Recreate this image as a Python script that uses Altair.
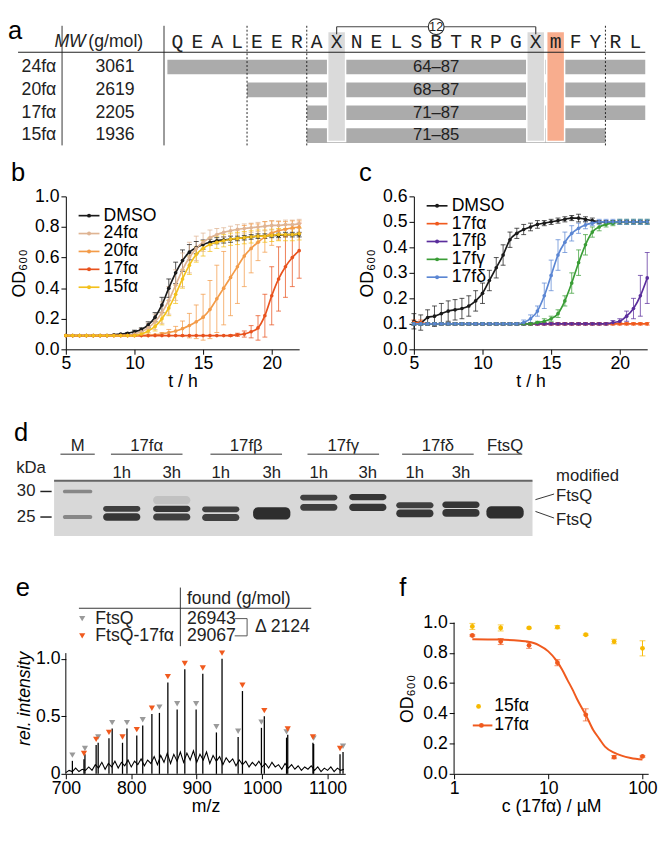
import altair as alt
import pandas as pd

FONT = "Liberation Sans"
MONO = "Liberation Mono"
FS = 18

# ---------------- Panel a : peptide table ----------------
sequence = list("QEALEERAXNELSBTRPGXmFYRL")
first_residue = 64
peptides = ["24fα", "20fα", "17fα", "15fα"]
mw_gmol = [3061, 2619, 2205, 1936]
res_start = [64, 68, 71, 71]
res_end = [87, 87, 87, 85]
crosslink_pos = [8, 18]
crosslink_ring = "12"
modified_pos = [19]

# ---------------- Panel b : growth curves ----------------
hours = [5.0, 5.5, 6.0, 6.5, 7.0, 7.5, 8.0, 8.5, 9.0, 9.5, 10.0, 10.5, 11.0, 11.5,
         12.0, 12.5, 13.0, 13.5, 14.0, 14.5, 15.0, 15.5, 16.0, 16.5, 17.0, 17.5,
         18.0, 18.5, 19.0, 19.5, 20.0, 20.5, 21.0, 21.5, 22.0]
b_names = ["DMSO", "24fα", "20fα", "17fα", "15fα"]
b_colors = ["#1a1a1a", "#dfb493", "#f39b48", "#e8521d", "#f3c01c"]
b_od = {
    "DMSO": [0.09, 0.09, 0.09, 0.09, 0.09, 0.09, 0.09, 0.095, 0.10, 0.105, 0.115, 0.13, 0.16, 0.21,
             0.29, 0.40, 0.50, 0.58, 0.635, 0.665, 0.685, 0.70, 0.71, 0.715, 0.72, 0.725,
             0.73, 0.735, 0.74, 0.74, 0.745, 0.745, 0.75, 0.75, 0.75],
    "24fα": [0.09, 0.09, 0.09, 0.09, 0.09, 0.09, 0.09, 0.09, 0.09, 0.09, 0.10, 0.115, 0.14, 0.18,
             0.24, 0.32, 0.42, 0.52, 0.60, 0.66, 0.70, 0.73, 0.75, 0.765, 0.775, 0.785,
             0.79, 0.795, 0.80, 0.805, 0.81, 0.81, 0.815, 0.815, 0.82],
    "20fα": [0.09, 0.09, 0.09, 0.09, 0.09, 0.09, 0.09, 0.09, 0.09, 0.09, 0.09, 0.09, 0.09, 0.095,
             0.10, 0.11, 0.12, 0.135, 0.155, 0.18, 0.21, 0.26, 0.33, 0.40, 0.47, 0.54,
             0.61, 0.66, 0.70, 0.735, 0.76, 0.775, 0.785, 0.795, 0.80],
    "17fα": [0.09, 0.09, 0.09, 0.09, 0.09, 0.09, 0.09, 0.09, 0.09, 0.09, 0.09, 0.09, 0.09, 0.09,
             0.09, 0.09, 0.09, 0.09, 0.09, 0.09, 0.09, 0.09, 0.09, 0.09, 0.09, 0.095,
             0.10, 0.115, 0.14, 0.22, 0.35, 0.46, 0.54, 0.60, 0.645],
    "15fα": [0.09, 0.09, 0.09, 0.09, 0.09, 0.09, 0.09, 0.09, 0.09, 0.09, 0.09, 0.10, 0.12, 0.15,
             0.20, 0.27, 0.36, 0.46, 0.55, 0.62, 0.66, 0.685, 0.70, 0.71, 0.72, 0.725,
             0.73, 0.735, 0.74, 0.74, 0.745, 0.75, 0.75, 0.75, 0.755],
}
b_err = {
    "DMSO": [0, 0, 0, 0, 0, 0, 0, 0, 0, 0.005, 0.01, 0.01, 0.02, 0.03, 0.05, 0.06, 0.07, 0.07,
             0.05, 0.04, 0.03, 0.02, 0.02, 0.02, 0.02, 0.015, 0.015, 0.015, 0.015, 0.015,
             0.015, 0.015, 0.015, 0.015, 0.015],
    "24fα": [0, 0, 0, 0, 0, 0, 0, 0, 0, 0.005, 0.01, 0.02, 0.03, 0.05, 0.07, 0.09, 0.10, 0.11,
             0.10, 0.08, 0.06, 0.05, 0.04, 0.03, 0.03, 0.03, 0.03, 0.03, 0.03, 0.03, 0.03,
             0.03, 0.03, 0.03, 0.03],
    "20fα": [0, 0, 0, 0, 0, 0, 0, 0, 0, 0, 0, 0, 0, 0, 0.01, 0.02, 0.03, 0.05, 0.08, 0.11,
             0.15, 0.19, 0.22, 0.24, 0.25, 0.24, 0.20, 0.16, 0.12, 0.10, 0.08, 0.06, 0.05,
             0.045, 0.04],
    "17fα": [0, 0, 0, 0, 0, 0, 0, 0, 0, 0, 0, 0, 0, 0, 0, 0, 0, 0, 0, 0, 0, 0, 0, 0, 0.005,
             0.01, 0.02, 0.04, 0.08, 0.14, 0.19, 0.21, 0.20, 0.19, 0.18],
    "15fα": [0, 0, 0, 0, 0, 0, 0, 0, 0, 0, 0.005, 0.01, 0.02, 0.03, 0.04, 0.05, 0.06, 0.06,
             0.06, 0.05, 0.05, 0.045, 0.04, 0.04, 0.04, 0.04, 0.04, 0.04, 0.04, 0.04, 0.04,
             0.04, 0.04, 0.04, 0.04],
}

# ---------------- Panel c : growth curves ----------------
c_names = ["DMSO", "17fα", "17fβ", "17fγ", "17fδ"]
c_colors = ["#1a1a1a", "#f05a1e", "#5a2d9c", "#3a9d36", "#5b86d3"]
c_od = {
    "DMSO": [0.11, 0.105, 0.125, 0.13, 0.14, 0.15, 0.155, 0.16, 0.17, 0.19, 0.22, 0.27, 0.32, 0.37,
             0.43, 0.455, 0.47, 0.48, 0.49, 0.495, 0.50, 0.505, 0.51, 0.515, 0.515, 0.51,
             0.505, 0.50, 0.50, 0.50, 0.50, 0.50, 0.50, 0.50, 0.50],
    "17fα": [0.105, 0.105, 0.10, 0.10, 0.10, 0.10, 0.10, 0.10, 0.10, 0.10, 0.10, 0.10, 0.10, 0.10,
             0.10, 0.10, 0.10, 0.10, 0.10, 0.10, 0.10, 0.10, 0.10, 0.10, 0.10, 0.10,
             0.10, 0.10, 0.10, 0.10, 0.10, 0.10, 0.10, 0.10, 0.10],
    "17fβ": [0.10, 0.10, 0.10, 0.10, 0.10, 0.10, 0.10, 0.10, 0.10, 0.10, 0.10, 0.10, 0.10, 0.10,
             0.10, 0.10, 0.10, 0.10, 0.10, 0.10, 0.10, 0.10, 0.10, 0.10, 0.10, 0.10,
             0.10, 0.10, 0.10, 0.105, 0.11, 0.13, 0.16, 0.21, 0.28],
    "17fγ": [0.10, 0.10, 0.10, 0.10, 0.10, 0.10, 0.10, 0.10, 0.10, 0.10, 0.10, 0.10, 0.10, 0.10,
             0.10, 0.10, 0.10, 0.10, 0.105, 0.11, 0.12, 0.14, 0.19, 0.26, 0.34, 0.41,
             0.46, 0.48, 0.49, 0.495, 0.50, 0.50, 0.50, 0.50, 0.50],
    "17fδ": [0.10, 0.10, 0.10, 0.10, 0.10, 0.10, 0.10, 0.10, 0.10, 0.10, 0.10, 0.10, 0.10, 0.10,
             0.10, 0.10, 0.105, 0.12, 0.15, 0.21, 0.29, 0.37, 0.42, 0.455, 0.475, 0.488,
             0.495, 0.50, 0.50, 0.50, 0.50, 0.50, 0.50, 0.50, 0.50],
}
c_err = {
    "DMSO": [0.03, 0.03, 0.03, 0.04, 0.04, 0.04, 0.04, 0.04, 0.04, 0.04, 0.04, 0.04, 0.04, 0.04,
             0.03, 0.02, 0.02, 0.015, 0.015, 0.01, 0.01, 0.01, 0.01, 0.01, 0.015, 0.01, 0.01,
             0.005, 0.005, 0.005, 0.005, 0.005, 0.005, 0.005, 0.005],
    "17fα": [0.01, 0.01, 0.005, 0.005, 0.005, 0.005, 0.005, 0.005, 0.005, 0.005, 0.005, 0.005,
             0.005, 0.005, 0.005, 0.005, 0.005, 0.005, 0.005, 0.005, 0.005, 0.005, 0.005, 0.005,
             0.005, 0.005, 0.005, 0.005, 0.005, 0.005, 0.005, 0.005, 0.005, 0.005, 0.005],
    "17fβ": [0.005, 0.005, 0.005, 0.005, 0.005, 0.005, 0.005, 0.005, 0.005, 0.005, 0.005, 0.005,
             0.005, 0.005, 0.005, 0.005, 0.005, 0.005, 0.005, 0.005, 0.005, 0.005, 0.005, 0.005,
             0.005, 0.005, 0.005, 0.005, 0.005, 0.008, 0.01, 0.02, 0.04, 0.08, 0.10],
    "17fγ": [0.005, 0.005, 0.005, 0.005, 0.005, 0.005, 0.005, 0.005, 0.005, 0.005, 0.005, 0.005,
             0.005, 0.005, 0.005, 0.005, 0.005, 0.005, 0.005, 0.01, 0.01, 0.015, 0.02, 0.04,
             0.05, 0.04, 0.02, 0.015, 0.01, 0.01, 0.01, 0.01, 0.01, 0.01, 0.01],
    "17fδ": [0.005, 0.005, 0.005, 0.005, 0.005, 0.005, 0.005, 0.005, 0.005, 0.005, 0.005, 0.005,
             0.005, 0.005, 0.005, 0.005, 0.01, 0.015, 0.02, 0.05, 0.06, 0.06, 0.04, 0.03,
             0.02, 0.015, 0.01, 0.01, 0.01, 0.01, 0.01, 0.01, 0.01, 0.01, 0.01],
}

# ---------------- Panel d : SDS-PAGE ----------------
lane_pos = [0.0, 0.9, 1.92, 2.92, 3.96, 4.92, 5.92, 6.88, 7.82, 8.72]
lane_time = ["", "1h", "3h", "1h", "3h", "1h", "3h", "1h", "3h", ""]
groups = ["M", "17fα", "17fβ", "17fγ", "17fδ", "FtsQ"]
group_lanes = [[0], [1, 2], [3, 4], [5, 6], [7, 8], [9]]
marker_kda = [30, 25]
band_lane = [0, 0, 1, 1, 2, 2, 2, 3, 3, 4, 5, 5, 6, 6, 7, 7, 8, 8, 9]
band_kda = [30.0, 25.0, 26.6, 25.0, 28.3, 26.6, 25.0, 26.5, 24.9, 25.7, 28.8, 26.9, 28.9, 26.9,
            27.3, 25.7, 27.4, 25.8, 25.9]
band_thick = [0.7, 0.8, 1.1, 1.5, 1.6, 1.2, 1.4, 1.1, 1.4, 2.4, 1.1, 1.3, 1.2, 1.4, 1.2, 1.5,
              1.3, 1.5, 2.4]
band_dark = [0.45, 0.45, 0.85, 0.9, 0.12, 0.9, 0.85, 0.85, 0.85, 0.95, 0.85, 0.85, 0.9, 0.9,
             0.85, 0.9, 0.9, 0.9, 0.95]

# ---------------- Panel e : ESI-MS ----------------
ftsq_mz = [710.0, 729.2, 749.4, 770.8, 793.4, 817.5, 843.0, 870.1, 899.1, 930.1, 963.3,
           998.9, 1037.3, 1078.7, 1123.6]
ftsq_int = [0.113, 0.17, 0.27, 0.395, 0.395, 0.42, 0.53, 0.56, 0.56, 0.36, 0.32, 0.40,
            0.315, 0.26, 0.19]
mod_mz = [727.7, 746.3, 765.9, 786.6, 808.4, 831.5, 855.9, 881.8, 909.3, 938.7, 969.9,
          1003.3, 1039.1, 1077.6, 1119.0]
mod_int = [0.127, 0.25, 0.31, 0.27, 0.334, 0.52, 0.795, 0.91, 0.87, 1.0, 0.72, 0.50, 0.34,
           0.27, 0.17]
noise_mz = [700, 705, 710, 715, 720, 725, 730, 735, 740, 745, 750, 755, 760, 765, 770, 775,
            780, 785, 790, 795, 800, 805, 810, 815, 820, 825, 830, 835, 840, 845, 850, 855,
            860, 865, 870, 875, 880, 885, 890, 895, 900, 905, 910, 915, 920, 925, 930, 935,
            940, 945, 950, 955, 960, 965, 970, 975, 980, 985, 990, 995, 1000, 1005, 1010,
            1015, 1020, 1025, 1030, 1035, 1040, 1045, 1050, 1055, 1060, 1065, 1070, 1075,
            1080, 1085, 1090, 1095, 1100, 1105, 1110, 1115, 1120, 1125]
noise_int = [0.01, 0.03, 0.02, 0.05, 0.02, 0.04, 0.03, 0.06, 0.03, 0.08,
             0.05, 0.10, 0.04, 0.09, 0.06, 0.11, 0.05, 0.10, 0.07, 0.12,
             0.06, 0.11, 0.08, 0.13, 0.07, 0.12, 0.09, 0.15, 0.08, 0.16,
             0.10, 0.18, 0.09, 0.17, 0.11, 0.19, 0.10, 0.18, 0.12, 0.20,
             0.10, 0.17, 0.12, 0.19, 0.09, 0.16, 0.11, 0.15, 0.08, 0.14,
             0.10, 0.13, 0.07, 0.12, 0.08, 0.11, 0.06, 0.10, 0.07, 0.11,
             0.06, 0.09, 0.05, 0.10, 0.06, 0.08, 0.04, 0.09, 0.05, 0.08,
             0.04, 0.07, 0.03, 0.06, 0.04, 0.07, 0.03, 0.06, 0.02, 0.05,
             0.03, 0.06, 0.02, 0.05, 0.03, 0.04]
species = ["FtsQ", "FtsQ-17fα"]
found_mass = [26943, 29067]
ms_colors = ["#9a9a9a", "#f05a1e"]

# ---------------- Panel f : dose response ----------------
conc = [1.5625, 3.125, 6.25, 12.5, 25, 50, 100]
f_od15 = [0.975, 0.965, 0.965, 0.97, 0.92, 0.875, 0.83]
f_err15 = [0.02, 0.02, 0.005, 0.01, 0.005, 0.015, 0.05]
f_od17 = [0.915, 0.875, 0.85, 0.735, 0.39, 0.11, 0.115]
f_err17 = [0.005, 0.02, 0.02, 0.02, 0.04, 0.01, 0.005]
fit_conc = [1.5625, 3, 5, 6, 7, 8, 10, 12, 14, 16, 18, 20, 22.5, 25, 30, 35, 40, 50, 60, 75, 100]
fit_od = [0.89, 0.888, 0.88, 0.875, 0.865, 0.85, 0.81, 0.755, 0.69, 0.62, 0.56, 0.50, 0.44,
          0.39, 0.29, 0.23, 0.18, 0.14, 0.12, 0.105, 0.095]
f_names = ["15fα", "17fα"]
f_colors = ["#f7b900", "#f05a1e"]


def title(letter, **kw):
    return alt.TitleParams(letter, anchor="start", fontSize=26, fontWeight="normal",
                           font=FONT, color="black", **kw)


# ======================= build panel a =======================
A_W, A_H = 591, 94
ax_s = alt.Scale(domain=[-5.6, 23.5], nice=False, zero=False)
ay_s = alt.Scale(domain=[-0.6, 3.43], nice=False, zero=False, reverse=True)


def AX(f):
    return alt.X(f, type="quantitative", scale=ax_s, axis=None)


def AY(f):
    return alt.Y(f, type="quantitative", scale=ay_s, axis=None)


rows = list(range(len(peptides)))
HDR_Y = -1.07
bar_df = pd.DataFrame({
    "x0": [s - first_residue - 0.5 for s in res_start],
    "x1": [e - first_residue + 0.5 for e in res_end],
    "y0": [r - 0.32 for r in rows], "y1": [r + 0.32 for r in rows],
    "row": rows,
    "label": [f"{s}–{e}" for s, e in zip(res_start, res_end)],
    "lx": [sum(crosslink_pos) / 2] * len(rows),
    "pep": peptides, "mw": [str(m) for m in mw_gmol],
    "px": [-6.08] * len(rows), "mx": [-3.13] * len(rows),
})
col_top, col_bot = -1.55, 3.26
xcol_df = pd.DataFrame({"x0": [p - 0.45 for p in crosslink_pos], "x1": [p + 0.45 for p in crosslink_pos],
                        "y0": [col_top] * 2, "y1": [col_bot] * 2})
mcol_df = pd.DataFrame({"x0": [p - 0.45 for p in modified_pos], "x1": [p + 0.45 for p in modified_pos],
                        "y0": [col_top], "y1": [col_bot]})
seq_df = pd.DataFrame({"i": list(range(len(sequence))), "aa": sequence, "y": [HDR_Y] * len(sequence)})
bounds = sorted(set([s - first_residue - 0.5 for s in res_start if s > first_residue] +
                    [e - first_residue + 0.5 for e in res_end if e < max(res_end)]))
dot_df = pd.DataFrame({"x": bounds, "y0": [-1.8] * len(bounds), "y1": [3.43] * len(bounds)})
sep_df = pd.DataFrame({"x": [-5.79, -0.67], "y0": [-1.8, -1.8], "y1": [3.43, 3.43]})
hline_df = pd.DataFrame({"x0": [-8.0], "x1": [23.5], "y": [-0.643]})
br_y, br_y2 = -1.758, -1.43
brk_df = pd.DataFrame({"x0": [crosslink_pos[0], crosslink_pos[0], crosslink_pos[1]],
                       "x1": [crosslink_pos[1], crosslink_pos[0], crosslink_pos[1]],
                       "y0": [br_y, br_y, br_y], "y1": [br_y, br_y2, br_y2]})
ring_df = pd.DataFrame({"x": [sum(crosslink_pos) / 2], "y": [br_y], "t": [crosslink_ring]})
hdr_df = pd.DataFrame({"x": [-4.6, -4.47], "y": [HDR_Y, HDR_Y], "t": ["MW", "(g/mol)"]})
letter_a = pd.DataFrame({"x": [-8.5], "y": [-2.12], "t": ["a"]})

panel_a = alt.layer(
    alt.Chart(bar_df).mark_rect(color="#ababab").encode(x=AX("x0"), x2="x1", y=AY("y0"), y2="y1"),
    alt.Chart(xcol_df).mark_rect(color="#dadada", stroke="white", strokeWidth=1.5).encode(
        x=AX("x0"), x2="x1", y=AY("y0"), y2="y1"),
    alt.Chart(mcol_df).mark_rect(color="#f8ad8e", stroke="white", strokeWidth=1.5).encode(
        x=AX("x0"), x2="x1", y=AY("y0"), y2="y1"),
    alt.Chart(bar_df).mark_text(fontSize=17, font=FONT, color="#222").encode(
        x=AX("lx"), y=AY("row"), text="label:N"),
    alt.Chart(seq_df).mark_text(fontSize=20, font=MONO, color="#222").encode(
        x=AX("i"), y=AY("y"), text="aa:N"),
    alt.Chart(bar_df).mark_text(fontSize=18, font=FONT, align="right", color="#222").encode(
        x=AX("px"), y=AY("row"), text="pep:N"),
    alt.Chart(bar_df).mark_text(fontSize=18, font=FONT, color="#222").encode(
        x=AX("mx"), y=AY("row"), text="mw:N"),
    alt.Chart(hdr_df.iloc[[0]]).mark_text(fontSize=18, font=FONT, fontStyle="italic", align="right",
                                          color="#222").encode(x=AX("x"), y=AY("y"), text="t:N"),
    alt.Chart(hdr_df.iloc[[1]]).mark_text(fontSize=18, font=FONT, align="left", color="#222").encode(
        x=AX("x"), y=AY("y"), text="t:N"),
    alt.Chart(sep_df).mark_rule(color="#333", strokeWidth=1).encode(x=AX("x"), y=AY("y0"), y2="y1"),
    alt.Chart(dot_df).mark_rule(color="#222", strokeWidth=1, strokeDash=[2, 2]).encode(
        x=AX("x"), y=AY("y0"), y2="y1"),
    alt.Chart(hline_df).mark_rule(color="#222", strokeWidth=1.2).encode(x=AX("x0"), x2="x1", y=AY("y")),
    alt.Chart(brk_df).mark_rule(color="#444", strokeWidth=1.2).encode(
        x=AX("x0"), x2="x1", y=AY("y0"), y2="y1"),
    alt.Chart(ring_df).mark_point(shape="circle", filled=True, fill="white", stroke="#333",
                                  strokeWidth=1.2, size=260, opacity=1).encode(x=AX("x"), y=AY("y")),
    alt.Chart(ring_df).mark_text(fontSize=13, font=FONT, color="#222").encode(
        x=AX("x"), y=AY("y"), text="t:N"),
    alt.Chart(letter_a).mark_text(fontSize=26, font=FONT, align="left", baseline="top",
                                  color="black").encode(x=AX("x"), y=AY("y"), text="t:N"),
).properties(width=A_W, height=A_H)


# ======================= growth panels b, c =======================
def growth_panel(series, errors, names, colors, ymax, yticks, leg_top, leg_step, letter, width, height):
    recs = []
    for n in names:
        for t, v, e in zip(hours, series[n], errors[n]):
            recs.append({"series": n, "t": t, "od": v, "lo": v - e, "hi": v + e, "e": e})
    df = pd.DataFrame(recs)
    xs = alt.Scale(domain=[5, 22], nice=False, zero=False)
    ys = alt.Scale(domain=[0, ymax], nice=False)
    xax = alt.Axis(values=[5, 10, 15, 20], title="t / h", titlePadding=0, labelPadding=1)
    yax = alt.Axis(values=yticks, format=".1f", title="OD₆₀₀", titlePadding=6)
    col = alt.Color("series:N", scale=alt.Scale(domain=names, range=colors), legend=None)

    def X(f):
        return alt.X(f, type="quantitative", scale=xs, axis=xax, title="t / h")

    def Y(f):
        return alt.Y(f, type="quantitative", scale=ys, axis=yax, title="OD₆₀₀")

    base = alt.Chart(df)
    errd = base.transform_filter("datum.e > 0")
    leg = pd.DataFrame({"series": names,
                        "y": [leg_top - i * leg_step for i in range(len(names))],
                        "xa": [5.93] * len(names), "xb": [7.45] * len(names),
                        "xd": [6.69] * len(names), "xt": [7.75] * len(names)})
    lb = alt.Chart(leg)
    return alt.layer(
        errd.mark_rule(strokeWidth=1, opacity=0.75).encode(x=X("t"), y=Y("lo"), y2="hi", color=col),
        errd.mark_tick(orient="horizontal", size=5, thickness=1, opacity=0.75).encode(
            x=X("t"), y=Y("hi"), color=col),
        errd.mark_tick(orient="horizontal", size=5, thickness=1, opacity=0.75).encode(
            x=X("t"), y=Y("lo"), color=col),
        base.mark_line(strokeWidth=1.7, interpolate="monotone").encode(x=X("t"), y=Y("od"), color=col),
        base.mark_circle(size=14, opacity=1).encode(x=X("t"), y=Y("od"), color=col),
        lb.mark_rule(strokeWidth=1.7).encode(x=X("xa"), x2="xb", y=Y("y"), color=col),
        lb.mark_circle(size=16, opacity=1).encode(x=X("xd"), y=Y("y"), color=col),
        lb.mark_text(align="left", fontSize=FS, font=FONT, color="black").encode(
            x=X("xt"), y=Y("y"), text="series:N"),
    ).properties(width=width, height=height, title=title(letter, offset=2))


panel_b = growth_panel(b_od, b_err, b_names, b_colors, 1.0, [0, 0.2, 0.4, 0.6, 0.8, 1.0],
                       0.874, 0.117, "b", 238, 156)
panel_c = growth_panel(c_od, c_err, c_names, c_colors, 0.6, [0, 0.1, 0.2, 0.3, 0.4, 0.5, 0.6],
                       0.563, 0.070, "c", 238, 156)

# ======================= panel d (gel) =======================
D_W, D_H = 596, 122
dx_s = alt.Scale(domain=[-0.24, 11.68], nice=False, zero=False)
dy_s = alt.Scale(domain=[20.6, 44.0], nice=False, zero=False)


def DX(f):
    return alt.X(f, type="quantitative", scale=dx_s, axis=None)


def DY(f):
    return alt.Y(f, type="quantitative", scale=dy_s, axis=None)


gel_df = pd.DataFrame({"x0": [-0.48], "x1": [9.28], "y0": [21.3], "y1": [32.1]})
band_df = pd.DataFrame({
    "x0": [lane_pos[l] - (0.3 if l == 0 else 0.38) for l in band_lane],
    "x1": [lane_pos[l] + (0.3 if l == 0 else 0.38) for l in band_lane],
    "y0": [k - t / 2 for k, t in zip(band_kda, band_thick)],
    "y1": [k + t / 2 for k, t in zip(band_kda, band_thick)],
    "dark": band_dark,
})
gcent = [sum(lane_pos[i] for i in g) / len(g) for g in group_lanes]
ghalf = [0.35 if len(g) == 1 else 0.73 for g in group_lanes]
grp_df = pd.DataFrame({"t": groups, "x": gcent, "x0": [c - h for c, h in zip(gcent, ghalf)],
                       "x1": [c + h for c, h in zip(gcent, ghalf)], "y": [38.85] * len(groups),
                       "yl": [37.3] * len(groups)})
time_df = pd.DataFrame({"x": lane_pos, "t": lane_time, "y": [33.65] * len(lane_pos)})
mk_df = pd.DataFrame({"t": [str(k) for k in marker_kda], "y": marker_kda,
                      "xt": [-1.05] * 2, "x0": [-0.76] * 2, "x1": [-0.53] * 2})
kda_df = pd.DataFrame({"t": ["kDa"], "x": [-0.95], "y": [34.6]})
right_df = pd.DataFrame({"t": ["modified", "FtsQ", "FtsQ"], "x": [9.76] * 3, "y": [33.1, 29.0, 24.4]})
lead_df = pd.DataFrame({"x0": [9.34, 9.34], "x1": [9.72, 9.72], "y0": [28.4, 26.1], "y1": [29.5, 24.8]})
letter_d = pd.DataFrame({"t": ["d"], "x": [-1.3], "y": [44.0]})

panel_d = alt.layer(
    alt.Chart(gel_df).mark_rect(color="#d8d8d8").encode(x=DX("x0"), x2="x1", y=DY("y0"), y2="y1"),
    alt.Chart(gel_df).mark_rule(color="#666", strokeWidth=2).encode(x=DX("x0"), x2="x1", y=DY("y1")),
    alt.Chart(band_df).mark_rect(color="#252525", cornerRadius=5).encode(
        x=DX("x0"), x2="x1", y=DY("y0"), y2="y1", opacity=alt.Opacity("dark:Q", scale=None)),
    alt.Chart(grp_df).mark_text(fontSize=17, font=FONT, color="#222").encode(
        x=DX("x"), y=DY("y"), text="t:N"),
    alt.Chart(grp_df).mark_rule(color="#777", strokeWidth=1.5).encode(x=DX("x0"), x2="x1", y=DY("yl")),
    alt.Chart(time_df).mark_text(fontSize=17, font=FONT, color="#222").encode(
        x=DX("x"), y=DY("y"), text="t:N"),
    alt.Chart(mk_df).mark_text(fontSize=17, font=FONT, color="#222").encode(
        x=DX("xt"), y=DY("y"), text="t:N"),
    alt.Chart(mk_df).mark_rule(color="#222", strokeWidth=1.5).encode(x=DX("x0"), x2="x1", y=DY("y")),
    alt.Chart(kda_df).mark_text(fontSize=17, font=FONT, color="#222").encode(
        x=DX("x"), y=DY("y"), text="t:N"),
    alt.Chart(right_df).mark_text(fontSize=17, font=FONT, align="left", color="#222").encode(
        x=DX("x"), y=DY("y"), text="t:N"),
    alt.Chart(lead_df).mark_rule(color="#333", strokeWidth=1).encode(
        x=DX("x0"), x2="x1", y=DY("y0"), y2="y1"),
    alt.Chart(letter_d).mark_text(fontSize=26, font=FONT, align="left", baseline="top",
                                  color="black").encode(x=DX("x"), y=DY("y"), text="t:N"),
).properties(width=D_W, height=D_H)

# ======================= panel e (MS) =======================
E_W, E_H = 285, 190
ex_s = alt.Scale(domain=[700, 1127], nice=False, zero=False)
ey_s = alt.Scale(domain=[0, 1.62], nice=False)
ex_ax = alt.Axis(values=[700, 800, 900, 1000, 1100], format="d", title="m/z", titlePadding=0,
                 labelPadding=1)
ey_ax = alt.Axis(values=[0, 0.5, 1.0], domain=False, title="rel. intensity", titleFontStyle="italic",
                 labelExpr="datum.value == 0 ? '0' : format(datum.value, '.1f')", titleY=113,
                 titlePadding=2, labelPadding=1)


def EX(f):
    return alt.X(f, type="quantitative", scale=ex_s, axis=ex_ax, title="m/z")


def EY(f):
    return alt.Y(f, type="quantitative", scale=ey_s, axis=ey_ax, title="rel. intensity")


noise_df = pd.DataFrame({"mz": noise_mz, "i": noise_int})
peaks_df = pd.DataFrame({"mz": ftsq_mz + mod_mz, "i": ftsq_int + mod_int,
                         "z": [0.0] * (len(ftsq_mz) + len(mod_mz))})
mk_gray = pd.DataFrame({"mz": ftsq_mz, "m": [v + 0.05 for v in ftsq_int]})
mk_or = pd.DataFrame({"mz": mod_mz, "m": [v + 0.05 for v in mod_int]})
eaxis_df = pd.DataFrame({"mz": [700], "y0": [0.0], "y1": [1.05]})
row_y = [1.35, 1.2]
tab_df = pd.DataFrame({"t": species, "m": [str(v) for v in found_mass], "y": row_y,
                       "xs": [725, 725], "xn": [745, 745], "xm": [885, 885], "sp": species})
hdr_e = pd.DataFrame({"t": ["found (g/mol)"], "x": [885], "y": [1.52]})
eline = pd.DataFrame({"x0": [720], "x1": [1075], "y": [1.44]})
esep = pd.DataFrame({"x": [875], "y0": [1.11], "y1": [1.62]})
ebr = pd.DataFrame({"x0": [958, 958, 977], "x1": [977, 977, 977],
                    "y0": [row_y[0], row_y[1], row_y[1]], "y1": [row_y[0], row_y[1], row_y[0]]})
delta_df = pd.DataFrame({"t": [f"Δ {found_mass[1] - found_mass[0]}"], "x": [989], "y": [1.275]})
sp_col = alt.Color("sp:N", scale=alt.Scale(domain=species, range=ms_colors), legend=None)

panel_e = alt.layer(
    alt.Chart(noise_df).mark_line(color="black", strokeWidth=1.1).encode(x=EX("mz"), y=EY("i")),
    alt.Chart(peaks_df).mark_rule(color="black", strokeWidth=1.3).encode(x=EX("mz"), y=EY("z"), y2="i"),
    alt.Chart(mk_gray).mark_point(shape="triangle-down", filled=True, size=40, color=ms_colors[0],
                                  opacity=1).encode(x=EX("mz"), y=EY("m")),
    alt.Chart(mk_or).mark_point(shape="triangle-down", filled=True, size=40, color=ms_colors[1],
                                opacity=1).encode(x=EX("mz"), y=EY("m")),
    alt.Chart(eaxis_df).mark_rule(color="black", strokeWidth=1).encode(x=EX("mz"), y=EY("y0"), y2="y1"),
    alt.Chart(tab_df).mark_point(shape="triangle-down", filled=True, size=40, opacity=1).encode(
        x=EX("xs"), y=EY("y"), color=sp_col),
    alt.Chart(tab_df).mark_text(align="left", fontSize=FS, font=FONT, color="#222").encode(
        x=EX("xn"), y=EY("y"), text="t:N"),
    alt.Chart(tab_df).mark_text(align="left", fontSize=FS, font=FONT, color="#222").encode(
        x=EX("xm"), y=EY("y"), text="m:N"),
    alt.Chart(hdr_e).mark_text(align="left", fontSize=FS, font=FONT, color="#222").encode(
        x=EX("x"), y=EY("y"), text="t:N"),
    alt.Chart(eline).mark_rule(color="#333", strokeWidth=1).encode(x=EX("x0"), x2="x1", y=EY("y")),
    alt.Chart(esep).mark_rule(color="#333", strokeWidth=1).encode(x=EX("x"), y=EY("y0"), y2="y1"),
    alt.Chart(ebr).mark_rule(color="#555", strokeWidth=1).encode(
        x=EX("x0"), x2="x1", y=EY("y0"), y2="y1"),
    alt.Chart(delta_df).mark_text(align="left", fontSize=FS, font=FONT, color="#222").encode(
        x=EX("x"), y=EY("y"), text="t:N"),
).properties(width=E_W, height=E_H, title=title("e", offset=-14))

# ======================= panel f (dose response) =======================
F_W, F_H = 198, 190
fx_s = alt.Scale(type="log", domain=[1, 115], nice=False)
fy_s = alt.Scale(domain=[0, 1.232], nice=False)
fx_ax = alt.Axis(values=[1, 10, 100], format="d", title="c (17fα) / µM", titlePadding=0,
                 labelPadding=1)
fy_ax = alt.Axis(values=[0, 0.2, 0.4, 0.6, 0.8, 1.0], format=".1f", domain=False, title="OD₆₀₀",
                 titleY=113, titlePadding=6)


def FX(f):
    return alt.X(f, type="quantitative", scale=fx_s, axis=fx_ax, title="c (17fα) / µM")


def FY(f):
    return alt.Y(f, type="quantitative", scale=fy_s, axis=fy_ax, title="OD₆₀₀")


fcol = alt.Color("s:N", scale=alt.Scale(domain=f_names, range=f_colors), legend=None)
fpts = pd.DataFrame({"c": conc + conc, "od": f_od15 + f_od17,
                     "lo": [v - e for v, e in zip(f_od15, f_err15)] + [v - e for v, e in zip(f_od17, f_err17)],
                     "hi": [v + e for v, e in zip(f_od15, f_err15)] + [v + e for v, e in zip(f_od17, f_err17)],
                     "s": [f_names[0]] * len(conc) + [f_names[1]] * len(conc)})
ffit = pd.DataFrame({"c": fit_conc, "od": fit_od, "s": [f_names[1]] * len(fit_conc)})
faxis = pd.DataFrame({"c": [1], "y0": [0.0], "y1": [1.0]})
fleg = pd.DataFrame({"s": f_names, "y": [0.446, 0.32], "xd": [1.82, 1.95], "xt": [2.67, 2.67]})
fleg_line = pd.DataFrame({"s": [f_names[1]], "y": [0.32], "xa": [1.58], "xb": [2.55]})

panel_f = alt.layer(
    alt.Chart(fpts).mark_rule(strokeWidth=1).encode(x=FX("c"), y=FY("lo"), y2="hi", color=fcol),
    alt.Chart(fpts).mark_tick(orient="horizontal", size=6, thickness=1).encode(
        x=FX("c"), y=FY("hi"), color=fcol),
    alt.Chart(fpts).mark_tick(orient="horizontal", size=6, thickness=1).encode(
        x=FX("c"), y=FY("lo"), color=fcol),
    alt.Chart(ffit).mark_line(strokeWidth=2, interpolate="monotone").encode(x=FX("c"), y=FY("od"), color=fcol),
    alt.Chart(fpts).mark_circle(size=24, opacity=1).encode(x=FX("c"), y=FY("od"), color=fcol),
    alt.Chart(faxis).mark_rule(color="black", strokeWidth=1).encode(x=FX("c"), y=FY("y0"), y2="y1"),
    alt.Chart(fleg_line).mark_rule(strokeWidth=2).encode(x=FX("xa"), x2="xb", y=FY("y"), color=fcol),
    alt.Chart(fleg).mark_circle(size=24, opacity=1).encode(x=FX("xd"), y=FY("y"), color=fcol),
    alt.Chart(fleg).mark_text(align="left", fontSize=FS, font=FONT, color="black").encode(
        x=FX("xt"), y=FY("y"), text="s:N"),
).properties(width=F_W, height=F_H, title=title("f", offset=-14))

IND = dict(color="independent", x="independent", y="independent")
row2 = alt.hconcat(panel_b, panel_c, spacing=56).resolve_scale(**IND)
row4 = alt.hconcat(panel_e, panel_f, spacing=52).resolve_scale(**IND)

top_part = alt.concat(panel_a, row2, columns=1, align="none", spacing=14).resolve_scale(**IND)
bottom_part = alt.concat(panel_d, row4, columns=1, align="none", spacing=36).resolve_scale(**IND)

chart = alt.concat(
    top_part, bottom_part, columns=1, align="none", spacing=30
).resolve_scale(**IND).properties(
    padding={"left": 0, "top": 0, "right": 0, "bottom": 0}
).configure_view(stroke=None).configure_axis(
    labelFont=FONT, titleFont=FONT, labelFontSize=FS, titleFontSize=FS, titleFontWeight="normal",
    labelColor="black", titleColor="black", domainColor="black", tickColor="black", grid=False,
    tickSize=5, labelPadding=2, domainWidth=1, tickWidth=1, labelFlush=False,
).configure_text(font=FONT)

chart.save("out.html", embed_options={"renderer": "svg", "actions": False})
